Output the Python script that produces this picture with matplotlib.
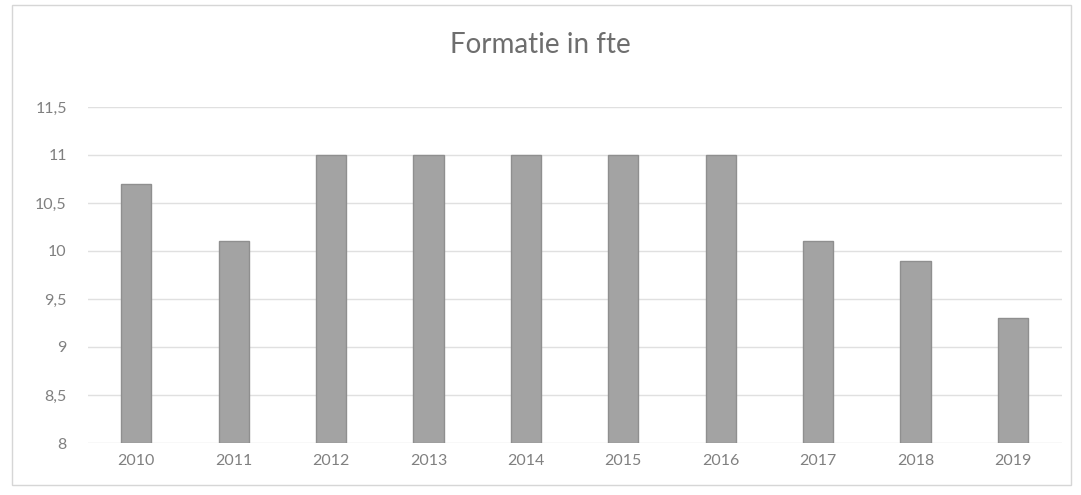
import matplotlib.pyplot as plt
from matplotlib.patches import Rectangle

years = ['2010', '2011', '2012', '2013', '2014', '2015', '2016', '2017', '2018', '2019']
fte = [10.7, 10.1, 11, 11, 11, 11, 11, 10.1, 9.9, 9.3]
yticks = [8, 8.5, 9, 9.5, 10, 10.5, 11, 11.5]
ylabels = ['8', '8,5', '9', '9,5', '10', '10,5', '11', '11,5']

plt.rcParams['font.family'] = ['Lato', 'DejaVu Sans']

fig = plt.figure(figsize=(10.81, 4.95), dpi=100)
ax = fig.add_axes([0.081, 0.105, 0.901, 0.679])

x = range(len(years))
ax.bar(x, [v - 8 for v in fte], bottom=8, width=0.31, color='#a3a3a3',
       edgecolor='#8f8f8f', linewidth=1, zorder=3)

ax.set_ylim(8, 11.5)
ax.set_xlim(-0.5, len(years) - 0.5)
ax.set_yticks(yticks)
ax.set_yticklabels(ylabels)
ax.set_xticks(list(x))
ax.set_xticklabels(years)
ax.tick_params(length=0, labelsize=11.5, colors='#808080', pad=8)
ax.tick_params(axis='y', pad=15)
ax.grid(axis='y', color='#e0e0e0', lw=1, zorder=0)
for s in ax.spines.values():
    s.set_visible(False)

fig.text(0.5, 0.91, 'Formatie in fte', ha='center', va='center',
         fontsize=20, color='#6e6e6e')

fig.patches.append(Rectangle((0.011, 0.02), 0.98, 0.97, transform=fig.transFigure,
                             fill=False, edgecolor='#d6d6d6', lw=1))

plt.savefig('out.png', dpi=100)
